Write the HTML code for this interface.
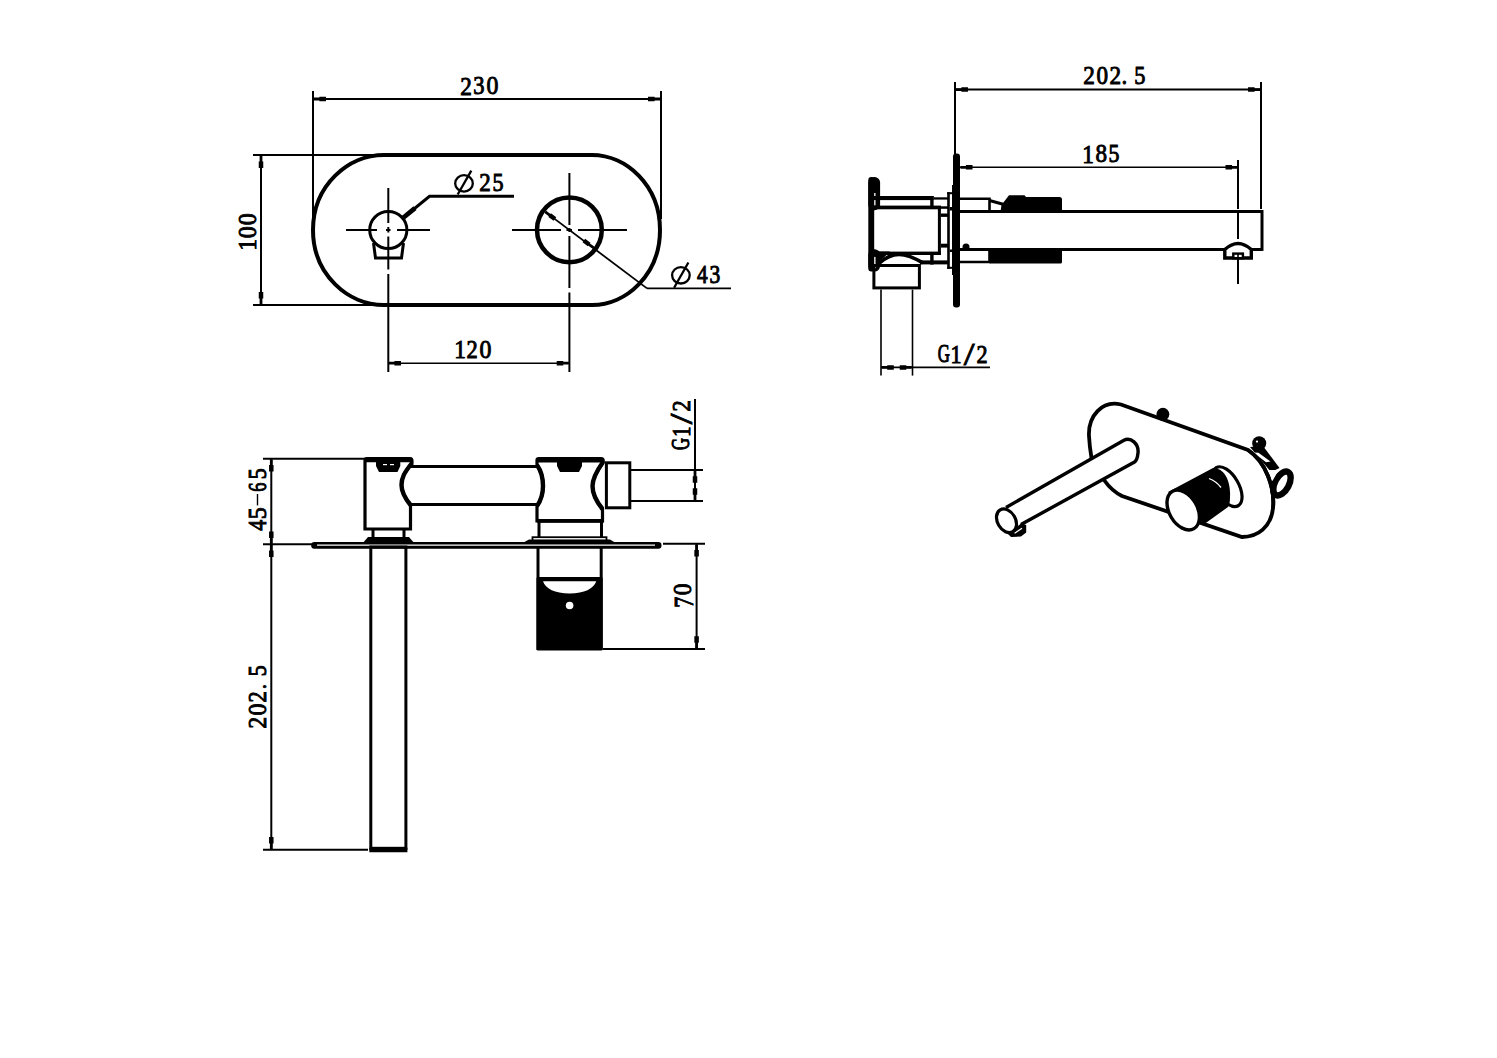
<!DOCTYPE html>
<html><head><meta charset="utf-8"><style>
html,body{margin:0;padding:0;background:#fff;}
svg{display:block;}
text{font-family:"Liberation Serif",serif;fill:#000;}
</style></head><body>
<svg width="1497" height="1058" viewBox="0 0 1497 1058">
<rect width="1497" height="1058" fill="#fff"/>
<g stroke="#000" fill="none">
<line x1="313" y1="91" x2="313" y2="225" stroke-width="2" stroke-linecap="butt" stroke="#000"/>
<line x1="661" y1="91" x2="661" y2="219" stroke-width="2" stroke-linecap="butt" stroke="#000"/>
<line x1="313" y1="99" x2="661" y2="99" stroke-width="2" stroke-linecap="butt" stroke="#000"/>
<path d="M314.00,97.61 L319.40,97.61 L319.40,96.75 L326.00,96.75 L326.00,101.25 L319.40,101.25 L319.40,100.39 L314.00,100.39 Z" fill="#000" stroke="none"/>
<path d="M660.00,100.39 L654.60,100.39 L654.60,101.25 L648.00,101.25 L648.00,96.75 L654.60,96.75 L654.60,97.61 L660.00,97.61 Z" fill="#000" stroke="none"/>
<text transform="translate(460.23,94.55) scale(0.9280,1.0270)" font-size="25" stroke="#000" stroke-width="0.921">2</text>
<text transform="translate(473.27,94.30) scale(0.9005,1.0121)" font-size="25" stroke="#000" stroke-width="0.941">3</text>
<text transform="translate(486.54,94.30) scale(0.9532,1.0077)" font-size="25" stroke="#000" stroke-width="0.918">0</text>
<line x1="253" y1="155" x2="385" y2="155" stroke-width="2" stroke-linecap="butt" stroke="#000"/>
<line x1="253" y1="305" x2="385" y2="305" stroke-width="2" stroke-linecap="butt" stroke="#000"/>
<line x1="261" y1="155" x2="261" y2="305" stroke-width="2" stroke-linecap="butt" stroke="#000"/>
<path d="M262.39,156.00 L262.39,161.40 L263.25,161.40 L263.25,168.00 L258.75,168.00 L258.75,161.40 L259.61,161.40 L259.61,156.00 Z" fill="#000" stroke="none"/>
<path d="M259.61,304.00 L259.61,298.60 L258.75,298.60 L258.75,292.00 L263.25,292.00 L263.25,298.60 L262.39,298.60 L262.39,304.00 Z" fill="#000" stroke="none"/>
<text transform="translate(256.35,250.45) rotate(-90) scale(0.9090,1.0179)" font-size="25" stroke="#000" stroke-width="0.934">1</text>
<text transform="translate(256.11,238.27) rotate(-90) scale(0.9627,0.9958)" font-size="25" stroke="#000" stroke-width="0.919">0</text>
<text transform="translate(256.11,225.27) rotate(-90) scale(0.9627,0.9958)" font-size="25" stroke="#000" stroke-width="0.919">0</text>
<path d="M384,155 L592,155 C626,155 660,185 660,230 C660,275 626,305 592,305 L384,305 C348.5,305 313,275 313,230 C313,185 348.5,155 384,155 Z" stroke-width="4" fill="none" stroke="#000" />
<circle cx="388.3" cy="230" r="18.6" fill="none" stroke-width="3"/>
<path d="M373.5,243 L375.5,258 L401.5,258 L403.5,243" stroke-width="3" fill="none" stroke-linejoin="miter"/>
<line x1="346" y1="230" x2="377" y2="230" stroke-width="2" stroke-linecap="butt" stroke="#000"/>
<line x1="386" y1="230" x2="390.5" y2="230" stroke-width="2" stroke-linecap="butt" stroke="#000"/>
<line x1="397" y1="230" x2="430" y2="230" stroke-width="2" stroke-linecap="butt" stroke="#000"/>
<line x1="388.3" y1="188" x2="388.3" y2="223" stroke-width="2" stroke-linecap="butt" stroke="#000"/>
<line x1="388.3" y1="227" x2="388.3" y2="232.5" stroke-width="2" stroke-linecap="butt" stroke="#000"/>
<line x1="388.3" y1="236.5" x2="388.3" y2="269.5" stroke-width="2" stroke-linecap="butt" stroke="#000"/>
<line x1="388.3" y1="274" x2="388.3" y2="372" stroke-width="2" stroke-linecap="butt" stroke="#000"/>
<path d="M403.5,217.5 L429.5,196.3 L514,196.3" stroke-width="3" fill="none" stroke-linejoin="miter"/>
<line x1="403.5" y1="217.5" x2="415" y2="208.2" stroke-width="4.8" stroke-linecap="butt" stroke="#000"/>
<ellipse cx="464" cy="183.4" rx="8.8" ry="8.2" fill="none" stroke-width="2.3"/>
<line x1="471.3" y1="170.6" x2="457.7" y2="194.5" stroke-width="2.3" stroke-linecap="butt" stroke="#000"/>
<text transform="translate(479.34,191.45) scale(0.9180,1.0331)" font-size="25" stroke="#000" stroke-width="0.923">2</text>
<text transform="translate(492.47,191.21) scale(0.8837,0.9871)" font-size="25" stroke="#000" stroke-width="0.962">5</text>
<circle cx="569.4" cy="229.8" r="32.4" fill="none" stroke-width="4.5"/>
<line x1="512" y1="230" x2="561" y2="230" stroke-width="2" stroke-linecap="butt" stroke="#000"/>
<line x1="566.5" y1="230" x2="572" y2="230" stroke-width="2" stroke-linecap="butt" stroke="#000"/>
<line x1="578" y1="230" x2="627" y2="230" stroke-width="2" stroke-linecap="butt" stroke="#000"/>
<line x1="569.4" y1="173" x2="569.4" y2="225" stroke-width="2" stroke-linecap="butt" stroke="#000"/>
<line x1="569.4" y1="228" x2="569.4" y2="232" stroke-width="2" stroke-linecap="butt" stroke="#000"/>
<line x1="569.4" y1="236" x2="569.4" y2="288" stroke-width="2" stroke-linecap="butt" stroke="#000"/>
<line x1="569.4" y1="292.5" x2="569.4" y2="372" stroke-width="2" stroke-linecap="butt" stroke="#000"/>
<line x1="545.3399999999999" y1="211.89000000000001" x2="647" y2="288.4" stroke-width="1.8" stroke-linecap="butt" stroke="#000"/>
<line x1="647" y1="288.4" x2="731" y2="288.4" stroke-width="1.8" stroke-linecap="butt" stroke="#000"/>
<path d="M592.65,248.80 L588.31,245.58 L587.81,246.25 L582.52,242.31 L585.15,238.78 L590.44,242.72 L589.94,243.39 L594.27,246.62 Z" fill="#000" stroke="none"/>
<path d="M546.15,210.80 L550.49,214.02 L550.99,213.35 L556.28,217.29 L553.65,220.82 L548.36,216.88 L548.86,216.21 L544.53,212.98 Z" fill="#000" stroke="none"/>
<ellipse cx="680.9" cy="275.3" rx="8.8" ry="8.2" fill="none" stroke-width="2.3"/>
<line x1="688.4" y1="262.5" x2="674.1" y2="287.7" stroke-width="2.3" stroke-linecap="butt" stroke="#000"/>
<text transform="translate(697.03,283.35) scale(0.8519,1.0270)" font-size="25" stroke="#000" stroke-width="0.958">4</text>
<text transform="translate(709.52,283.10) scale(0.8618,1.0061)" font-size="25" stroke="#000" stroke-width="0.964">3</text>
<line x1="388.3" y1="363.2" x2="569.4" y2="363.2" stroke-width="1.6" stroke-linecap="butt" stroke="#000"/>
<path d="M389.00,361.81 L394.40,361.81 L394.40,360.95 L401.00,360.95 L401.00,365.45 L394.40,365.45 L394.40,364.59 L389.00,364.59 Z" fill="#000" stroke="none"/>
<path d="M568.70,364.59 L563.30,364.59 L563.30,365.45 L556.70,365.45 L556.70,360.95 L563.30,360.95 L563.30,361.81 L568.70,361.81 Z" fill="#000" stroke="none"/>
<text transform="translate(454.20,358.45) scale(0.9317,1.0301)" font-size="25" stroke="#000" stroke-width="0.918">1</text>
<text transform="translate(466.46,358.45) scale(0.8980,1.0270)" font-size="25" stroke="#000" stroke-width="0.935">2</text>
<text transform="translate(479.44,358.20) scale(0.9532,1.0077)" font-size="25" stroke="#000" stroke-width="0.918">0</text>
<line x1="955" y1="82" x2="955" y2="154" stroke-width="2" stroke-linecap="butt" stroke="#000"/>
<line x1="955" y1="89.6" x2="1261" y2="89.6" stroke-width="2" stroke-linecap="butt" stroke="#000"/>
<path d="M956.00,88.20 L961.40,88.20 L961.40,87.35 L968.00,87.35 L968.00,91.85 L961.40,91.85 L961.40,90.99 L956.00,90.99 Z" fill="#000" stroke="none"/>
<path d="M1260.00,90.99 L1254.60,90.99 L1254.60,91.85 L1248.00,91.85 L1248.00,87.35 L1254.60,87.35 L1254.60,88.20 L1260.00,88.20 Z" fill="#000" stroke="none"/>
<line x1="1261" y1="82" x2="1261" y2="209" stroke-width="2" stroke-linecap="butt" stroke="#000"/>
<text transform="translate(1083.23,84.45) scale(0.9280,1.0270)" font-size="25" stroke="#000" stroke-width="0.921">2</text>
<text transform="translate(1096.47,84.20) scale(0.9249,1.0077)" font-size="25" stroke="#000" stroke-width="0.931">0</text>
<text transform="translate(1109.43,84.45) scale(0.9280,1.0270)" font-size="25" stroke="#000" stroke-width="0.921">2</text>
<text transform="translate(1121.54,84.09) scale(0.9140,1.0155)" font-size="25" stroke="#000" stroke-width="0.933">.</text>
<text transform="translate(1134.25,84.21) scale(0.8937,0.9871)" font-size="25" stroke="#000" stroke-width="0.957">5</text>
<line x1="960" y1="167.3" x2="1238" y2="167.3" stroke-width="1.6" stroke-linecap="butt" stroke="#000"/>
<path d="M960.50,165.91 L965.90,165.91 L965.90,165.05 L972.50,165.05 L972.50,169.55 L965.90,169.55 L965.90,168.70 L960.50,168.70 Z" fill="#000" stroke="none"/>
<path d="M1237.50,168.70 L1232.10,168.70 L1232.10,169.55 L1225.50,169.55 L1225.50,165.05 L1232.10,165.05 L1232.10,165.91 L1237.50,165.91 Z" fill="#000" stroke="none"/>
<line x1="1238" y1="160" x2="1238" y2="209" stroke-width="2" stroke-linecap="butt" stroke="#000"/>
<line x1="1238" y1="212.5" x2="1238" y2="239" stroke-width="2" stroke-linecap="butt" stroke="#000"/>
<line x1="1238" y1="259" x2="1238" y2="284" stroke-width="2" stroke-linecap="butt" stroke="#000"/>
<text transform="translate(1082.20,162.55) scale(0.9317,1.0361)" font-size="25" stroke="#000" stroke-width="0.915">1</text>
<text transform="translate(1095.57,162.30) scale(0.9249,1.0136)" font-size="25" stroke="#000" stroke-width="0.929">8</text>
<text transform="translate(1108.38,162.31) scale(0.8738,0.9932)" font-size="25" stroke="#000" stroke-width="0.964">5</text>
<rect x="953" y="153.5" width="7" height="154" rx="3" fill="#000" stroke="none"/>
<rect x="952" y="185" width="8" height="90" fill="#000" stroke="none"/>
<rect x="868.3" y="177.1" width="5.90" height="94.50" rx="3" fill="#000" stroke="none"/>
<rect x="868.3" y="177.1" width="11.80" height="33.10" rx="5.5" fill="#000" stroke="none"/>
<rect x="868.3" y="249.2" width="11.80" height="22.40" rx="5.5" fill="#000" stroke="none"/>
<rect x="874.2" y="193" width="1.30" height="12.50" rx="0" fill="#fff" stroke="none"/>
<rect x="874.2" y="256.9" width="1.30" height="11.20" rx="0" fill="#fff" stroke="none"/>
<rect x="874" y="196" width="59.60" height="4.10" rx="0" fill="#000" stroke="none"/>
<rect x="933.6" y="197.3" width="14.40" height="2.30" rx="0" fill="#000" stroke="none"/>
<rect x="930.2" y="196" width="3.40" height="12.00" rx="0" fill="#000" stroke="none"/>
<rect x="874" y="205.6" width="67.00" height="3.70" rx="0" fill="#000" stroke="none"/>
<rect x="933.6" y="206.3" width="14.40" height="2.50" rx="0" fill="#000" stroke="none"/>
<rect x="937.9" y="206.3" width="3.00" height="48.70" rx="0" fill="#000" stroke="none"/>
<rect x="874" y="251.6" width="67.00" height="3.40" rx="0" fill="#000" stroke="none"/>
<rect x="940.9" y="213.5" width="7.10" height="3.40" rx="0" fill="#000" stroke="none"/>
<rect x="940.9" y="243.7" width="7.10" height="3.90" rx="0" fill="#000" stroke="none"/>
<rect x="947.2" y="192.2" width="2.60" height="76.60" rx="0" fill="#000" stroke="none"/>
<rect x="947.2" y="192.2" width="5.80" height="2.00" rx="0" fill="#000" stroke="none"/>
<rect x="947.2" y="266.8" width="5.80" height="2.00" rx="0" fill="#000" stroke="none"/>
<rect x="949.8" y="207" width="2.70" height="3.50" rx="0" fill="#000" stroke="none"/>
<rect x="949.8" y="249.5" width="2.70" height="2.50" rx="0" fill="#000" stroke="none"/>
<rect x="930.2" y="253" width="3.40" height="11.60" rx="0" fill="#000" stroke="none"/>
<rect x="920" y="260.4" width="28.00" height="4.00" rx="0" fill="#000" stroke="none"/>
<path d="M879,263.5 C886,257 892,254.5 899,254.5 C906,254.5 913,257 923,263" stroke-width="3.6" fill="none" stroke="#000" />
<path d="M874,251.6 L890,251.6 L884,257.5 L879,262 L874,264.5 Z" stroke-width="0" fill="#000" stroke="none" />
<rect x="874.2" y="256.9" width="1.30" height="11.20" rx="0" fill="#fff" stroke="none"/>
<rect x="873.9" y="265.5" width="45.5" height="22.4" fill="none" stroke-width="3"/>
<line x1="881" y1="289.6" x2="881" y2="375.6" stroke-width="1.6" stroke-linecap="butt" stroke="#000"/>
<line x1="912.5" y1="289.6" x2="912.5" y2="375.6" stroke-width="1.6" stroke-linecap="butt" stroke="#000"/>
<line x1="881" y1="367.4" x2="990" y2="367.4" stroke-width="1.6" stroke-linecap="butt" stroke="#000"/>
<path d="M881.80,366.00 L887.20,366.00 L887.20,365.15 L893.80,365.15 L893.80,369.65 L887.20,369.65 L887.20,368.79 L881.80,368.79 Z" fill="#000" stroke="none"/>
<path d="M911.70,368.79 L906.30,368.79 L906.30,369.65 L899.70,369.65 L899.70,365.15 L906.30,365.15 L906.30,366.00 L911.70,366.00 Z" fill="#000" stroke="none"/>
<text transform="translate(937.76,362.30) scale(0.6709,1.0180)" font-size="25" stroke="#000" stroke-width="1.066">G</text>
<text transform="translate(950.60,362.55) scale(0.8862,1.0361)" font-size="25" stroke="#000" stroke-width="0.936">1</text>
<text transform="translate(963.65,364.84) scale(1.5549,1.2856)" font-size="25" stroke="#000" stroke-width="0.634">/</text>
<text transform="translate(976.57,362.55) scale(0.8880,1.0331)" font-size="25" stroke="#000" stroke-width="0.937">2</text>
<path d="M960,198.7 L989.5,198.7 L989.5,211" stroke-width="2.6" fill="none" stroke="#000" />
<path d="M989.5,200.5 L1004,204.5" stroke-width="3" fill="none" stroke="#000" />
<path d="M1000.5,211.6 L1001.5,205 L1009,195.2 L1024.5,195.2 L1026,197 L1059.5,197 Q1062,197 1062,199.5 L1062,211.6 Z" stroke-width="0" fill="#000" stroke="none" />
<line x1="960" y1="211.4" x2="1262" y2="211.4" stroke-width="3" stroke-linecap="butt" stroke="#000"/>
<line x1="960" y1="249.4" x2="1262" y2="249.4" stroke-width="3" stroke-linecap="butt" stroke="#000"/>
<line x1="1262" y1="210" x2="1262" y2="250.9" stroke-width="3" stroke-linecap="butt" stroke="#000"/>
<path d="M960,262 L989.5,262 L989.5,250" stroke-width="2.6" fill="none" stroke="#000" />
<rect x="989" y="249" width="73" height="14.5" rx="1.5" fill="#000" stroke="none"/>
<circle cx="966" cy="247" r="3.5" fill="#000" stroke="none"/>
<path d="M1224.8,258 L1224.8,249.5 Q1238,237.4 1251.3,249.5 L1251.3,258 Z" stroke-width="3.4" fill="#fff" stroke="#000" />
<rect x="1233.3" y="253.6" width="9.6" height="4.6" fill="#fff" stroke-width="2.4"/>
<line x1="1238" y1="253" x2="1238" y2="259" stroke-width="1.6" stroke-linecap="butt" stroke="#000"/>
<line x1="263" y1="458.7" x2="365" y2="458.7" stroke-width="2" stroke-linecap="butt" stroke="#000"/>
<line x1="263" y1="544.2" x2="312" y2="544.2" stroke-width="2" stroke-linecap="butt" stroke="#000"/>
<line x1="263" y1="849.8" x2="368" y2="849.8" stroke-width="2" stroke-linecap="butt" stroke="#000"/>
<line x1="271.3" y1="458.7" x2="271.3" y2="849.8" stroke-width="2" stroke-linecap="butt" stroke="#000"/>
<path d="M272.69,459.50 L272.69,464.90 L273.55,464.90 L273.55,471.50 L269.05,471.50 L269.05,464.90 L269.91,464.90 L269.91,459.50 Z" fill="#000" stroke="none"/>
<path d="M269.91,543.40 L269.91,538.00 L269.05,538.00 L269.05,531.40 L273.55,531.40 L273.55,538.00 L272.69,538.00 L272.69,543.40 Z" fill="#000" stroke="none"/>
<path d="M272.69,545.00 L272.69,550.40 L273.55,550.40 L273.55,557.00 L269.05,557.00 L269.05,550.40 L269.91,550.40 L269.91,545.00 Z" fill="#000" stroke="none"/>
<path d="M269.91,849.00 L269.91,843.60 L269.05,843.60 L269.05,837.00 L273.55,837.00 L273.55,843.60 L272.69,843.60 L272.69,849.00 Z" fill="#000" stroke="none"/>
<text transform="translate(266.35,530.67) rotate(-90) scale(0.8691,1.0270)" font-size="25" stroke="#000" stroke-width="0.949">4</text>
<text transform="translate(266.10,519.15) rotate(-90) scale(0.9632,1.0172)" font-size="25" stroke="#000" stroke-width="0.909">5</text>
<line x1="257.5" y1="494" x2="257.5" y2="505.4" stroke-width="1.4" stroke-linecap="butt" stroke="#000"/>
<text transform="translate(266.10,491.73) rotate(-90) scale(0.7303,1.0061)" font-size="25" stroke="#000" stroke-width="1.037">6</text>
<text transform="translate(266.10,479.33) rotate(-90) scale(0.8837,1.0172)" font-size="25" stroke="#000" stroke-width="0.947">5</text>
<text transform="translate(266.35,728.57) rotate(-90) scale(0.9280,1.0210)" font-size="25" stroke="#000" stroke-width="0.924">2</text>
<text transform="translate(266.11,715.56) rotate(-90) scale(0.9532,1.0018)" font-size="25" stroke="#000" stroke-width="0.921">0</text>
<text transform="translate(266.35,702.44) rotate(-90) scale(0.8980,1.0210)" font-size="25" stroke="#000" stroke-width="0.938">2</text>
<text transform="translate(266.03,689.24) rotate(-90) scale(0.8463,0.9140)" font-size="25" stroke="#000" stroke-width="1.023">.</text>
<text transform="translate(266.10,676.23) rotate(-90) scale(0.8837,1.0172)" font-size="25" stroke="#000" stroke-width="0.947">5</text>
<path d="M365,529 L365,460.5 Q365,458.7 367,458.7 L410,458.7 Q412,458.7 412,461 L412,463 C404,473 401.5,478 401.5,485 C401.5,492 404,497 410.5,505 L410.5,529 Z" stroke-width="3.2" fill="none" stroke="#000" />
<path d="M412,463 C404,473 401.5,478 401.5,485 C401.5,492 404,497 410.5,505" stroke-width="4.4" fill="none" stroke="#000" />
<line x1="365" y1="460" x2="412" y2="460" stroke-width="4.6" stroke-linecap="butt" stroke="#000"/>
<path d="M376,461 L400.3,461 L400.3,466 L397.5,472 L379,472 L376,466 Z" stroke-width="0" fill="#000" stroke="none" />
<rect x="383" y="464" width="4" height="1.2" fill="#fff" stroke="none"/>
<rect x="390" y="464" width="4" height="1.2" fill="#fff" stroke="none"/>
<line x1="373" y1="529" x2="373" y2="538" stroke-width="3" stroke-linecap="butt" stroke="#000"/>
<line x1="404" y1="529" x2="404" y2="538" stroke-width="3" stroke-linecap="butt" stroke="#000"/>
<path d="M362,544 L368,537 L409,537 L415,544 Z" stroke-width="0" fill="#000" stroke="none" />
<line x1="411" y1="466.4" x2="537" y2="466.4" stroke-width="3" stroke-linecap="butt" stroke="#000"/>
<line x1="411" y1="504.5" x2="537" y2="504.5" stroke-width="3" stroke-linecap="butt" stroke="#000"/>
<path d="M537,521 L537,506 C542,499 543,492 543,486 C543,480 542,472 537,465 L537,460 Q537,458.5 539,458.5 L601,458.5 Q603.3,458.5 603.3,461 L603.3,462 C596,472 592.5,479 592.5,486 C592.5,494 596,501 602.5,509 L602.5,521 Z" stroke-width="3.2" fill="none" stroke="#000" />
<path d="M537,465 C542,472 543,480 543,486 C543,492 542,499 537,506" stroke-width="4.4" fill="none" stroke="#000" />
<path d="M603,462 C596,472 592.5,479 592.5,486 C592.5,494 596,501 602.5,509" stroke-width="4.4" fill="none" stroke="#000" />
<line x1="537" y1="460.2" x2="603.3" y2="460.2" stroke-width="4.6" stroke-linecap="butt" stroke="#000"/>
<line x1="537" y1="520.8" x2="603.5" y2="520.8" stroke-width="3.8" stroke-linecap="butt" stroke="#000"/>
<path d="M557,461 L582,461 L582,466 L579,472 L560,472 L557,466 Z" stroke-width="0" fill="#000" stroke="none" />
<line x1="539" y1="521" x2="539" y2="537" stroke-width="3" stroke-linecap="butt" stroke="#000"/>
<line x1="601.5" y1="521" x2="601.5" y2="537" stroke-width="3" stroke-linecap="butt" stroke="#000"/>
<rect x="532.5" y="537.2" width="74" height="3.6" fill="none" stroke-width="1.8"/>
<path d="M523.5,542.5 L529,539.5 L610,539.5 L615,542.5 Z" stroke-width="0" fill="#000" stroke="none" />
<rect x="606.4" y="462.8" width="23.4" height="45" fill="none" stroke-width="3"/>
<line x1="631" y1="469.9" x2="703" y2="469.9" stroke-width="2" stroke-linecap="butt" stroke="#000"/>
<line x1="631" y1="501" x2="703" y2="501" stroke-width="2" stroke-linecap="butt" stroke="#000"/>
<line x1="695" y1="399" x2="695" y2="501" stroke-width="2" stroke-linecap="butt" stroke="#000"/>
<path d="M696.39,470.80 L696.39,476.20 L697.25,476.20 L697.25,482.80 L692.75,482.80 L692.75,476.20 L693.61,476.20 L693.61,470.80 Z" fill="#000" stroke="none"/>
<path d="M693.61,500.20 L693.61,494.80 L692.75,494.80 L692.75,488.20 L697.25,488.20 L697.25,494.80 L696.39,494.80 L696.39,500.20 Z" fill="#000" stroke="none"/>
<text transform="translate(689.40,450.03) rotate(-90) scale(0.6647,1.0300)" font-size="25" stroke="#000" stroke-width="1.062">G</text>
<text transform="translate(689.65,437.00) rotate(-90) scale(0.8408,1.0482)" font-size="25" stroke="#000" stroke-width="0.953">1</text>
<text transform="translate(692.13,424.35) rotate(-90) scale(1.5405,1.3035)" font-size="25" stroke="#000" stroke-width="0.633">/</text>
<text transform="translate(689.65,411.44) rotate(-90) scale(0.8980,1.0451)" font-size="25" stroke="#000" stroke-width="0.926">2</text>
<rect x="311.2" y="542" width="350.3" height="6.8" rx="3.2" fill="#000" stroke="none"/>
<line x1="317" y1="545.2" x2="655" y2="545.2" stroke-width="1.2" stroke-linecap="butt" stroke="#fff"/>
<rect x="370.8" y="547" width="35.1" height="301.3" fill="none" stroke-width="3"/>
<line x1="369.3" y1="850" x2="407.4" y2="850" stroke-width="4.4" stroke-linecap="butt" stroke="#000"/>
<line x1="538" y1="548" x2="538" y2="650" stroke-width="3" stroke-linecap="butt" stroke="#000"/>
<line x1="601.2" y1="548" x2="601.2" y2="650" stroke-width="3" stroke-linecap="butt" stroke="#000"/>
<rect x="536.5" y="577" width="66.2" height="73.4" rx="1.5" fill="#000" stroke="none"/>
<path d="M543,581.3 L596.3,581.3 Q592,593 569.6,593.5 Q547,593 543,581.3 Z" stroke-width="0" fill="#fff" stroke="none" />
<circle cx="569.6" cy="605.5" r="3.8" fill="#fff" stroke="none"/>
<line x1="663" y1="543.7" x2="705" y2="543.7" stroke-width="2" stroke-linecap="butt" stroke="#000"/>
<line x1="603" y1="649" x2="705" y2="649" stroke-width="2" stroke-linecap="butt" stroke="#000"/>
<line x1="696.6" y1="543.7" x2="696.6" y2="649" stroke-width="2" stroke-linecap="butt" stroke="#000"/>
<path d="M698.00,544.50 L698.00,549.90 L698.85,549.90 L698.85,556.50 L694.35,556.50 L694.35,549.90 L695.21,549.90 L695.21,544.50 Z" fill="#000" stroke="none"/>
<path d="M695.21,648.20 L695.21,642.80 L694.35,642.80 L694.35,636.20 L698.85,636.20 L698.85,642.80 L698.00,642.80 L698.00,648.20 Z" fill="#000" stroke="none"/>
<text transform="translate(692.55,607.81) rotate(-90) scale(0.8883,1.0996)" font-size="25" stroke="#000" stroke-width="0.905">7</text>
<text transform="translate(691.30,595.25) rotate(-90) scale(0.9438,1.0136)" font-size="25" stroke="#000" stroke-width="0.920">0</text>
<path d="M1121,404.5 C1102,400 1088,416 1089,436 C1089.5,446 1090.5,452 1091.5,458 L1104.4,480.5 C1109,487 1114,492 1122,496 L1242,537 C1258,537 1271,527 1273,508 C1275,488 1266,462 1248,450 Z" stroke-width="3.8" fill="#fff" stroke="#000" />
<circle cx="1162.9" cy="414.2" r="6.4" fill="#000" stroke="none"/>
<path d="M1250,447 L1263,446 L1279.5,468 L1271,472 Z" stroke-width="0" fill="#000" stroke="none" />
<path d="M1253.5,452.5 L1258.5,452.8 L1270.5,461.5 L1266,462.3 Z" stroke-width="0" fill="#fff" stroke="none" />
<circle cx="1259.2" cy="443.3" r="7" fill="#000" stroke="none"/>
<circle cx="1257" cy="441.6" r="1.1" fill="#fff" stroke="none"/>
<ellipse cx="1282" cy="483.5" rx="7" ry="13" transform="rotate(28 1282 483.5)" fill="#fff" stroke-width="6.4"/>
<path d="M1268.5,470 L1278.5,470 L1272.5,481 Z" stroke-width="0" fill="#fff" stroke="none" />
<path d="M1248,450 C1266,462 1275,488 1273,508" stroke-width="3.8" fill="none" stroke="#000" />
<path d="M1006,507.5 L1123.5,440.5 C1131,436.5 1139,444 1138,453 C1137.5,458 1136,461 1134.5,462 L1021,524.5 L1010,534 L996,515 Z" fill="#fff" stroke="none"/>
<path d="M1006,507.5 L1123.5,440.5 C1131,436.5 1139,444 1138,453 C1137.5,458 1136,461 1134.5,462 L1021,524.5" stroke-width="3.4" fill="none" stroke="#000" />
<path d="M1007,533 L1011,537 L1021,536.6 L1026.2,532.5 L1026.2,525 L1021.5,523.2 L1013,530 Z" stroke-width="0" fill="#000" stroke="none" />
<path d="M1014.5,533.3 L1022,528.3" stroke-width="1.3" fill="none" stroke="#fff" />
<ellipse cx="1006.5" cy="520.8" rx="9" ry="12.6" transform="rotate(-30 1006.5 520.8)" fill="#fff" stroke-width="3.2"/>
<ellipse cx="1227.2" cy="486.7" rx="11.5" ry="22" transform="rotate(-30 1227.2 486.7)" fill="#fff" stroke-width="3.2"/>
<path d="M1168,492 L1213,468 C1225,468 1231,482 1230,497 C1230,503 1229,506 1228,507 L1203,525 Z" stroke-width="0" fill="#000" stroke="none" />
<path d="M1209,478.5 Q1216,481 1221,487.5" stroke-width="1.3" fill="none" stroke="#fff" />
<ellipse cx="1183.2" cy="510" rx="14" ry="21.5" transform="rotate(-30 1183.2 510)" fill="#fff" stroke-width="3.4"/>
</g>
</svg>
</body></html>
